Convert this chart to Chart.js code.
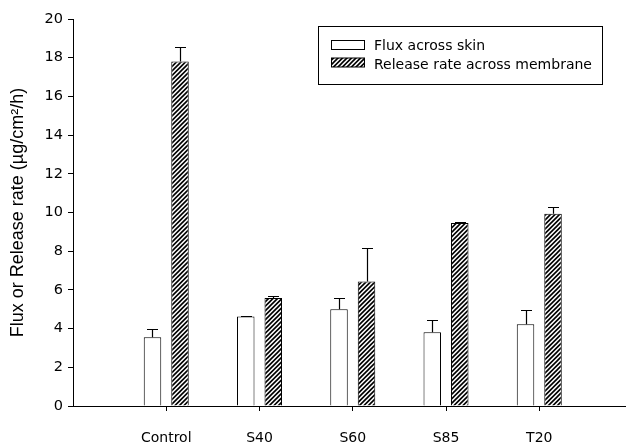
<!DOCTYPE html>
<html>
<head>
<meta charset="utf-8">
<script src="https://cdn.jsdelivr.net/npm/chart.js@4.4.1/dist/chart.umd.min.js"></script>
<style>
  html, body { margin: 0; padding: 0; background: #fff; }
  canvas { display: block; }
</style>
</head>
<body>
<canvas id="c" width="626" height="445"></canvas>
<script>
// ---- data ----
const categories = ['Control', 'S40', 'S60', 'S85', 'T20'];
const categoryPositions = [1, 2, 3, 4, 5];
const fluxValues = [3.55, 4.63, 5.00, 3.81, 4.22];
const fluxErrors = [0.45, 0.03, 0.58, 0.65, 0.75];
const releaseValues = [17.80, 5.58, 6.44, 9.46, 9.94];
const releaseErrors = [0.77, 0.09, 1.74, 0.05, 0.34];
const seriesLabels = ['Flux across skin', 'Release rate across membrane'];
const yTicks = [0, 2, 4, 6, 8, 10, 12, 14, 16, 18, 20];
const yTitle = 'Flux or Release rate (\u00b5g/cm\u00b2/h)';

const TXT = '"DejaVu Sans", sans-serif';

function makeHatch() {
  const s = 9;
  const c = document.createElement('canvas');
  c.width = s; c.height = s;
  const g = c.getContext('2d');
  g.fillStyle = '#fff';
  g.fillRect(0, 0, s, s);
  g.strokeStyle = '#000';
  g.lineWidth = 1.6;
  g.beginPath();
  for (const k of [-9, -4.5, 0, 4.5, 9]) {
    g.moveTo(k - 1, s + 1);
    g.lineTo(k + s + 1, -1);
  }
  g.stroke();
  return g.createPattern(c, 'repeat');
}
const hatch = makeHatch();

const toPoints = vals => vals.map((v, i) => ({ x: categoryPositions[i], y: v }));

const errorBars = {
  id: 'errorBars',
  afterDatasetsDraw(chart) {
    const ctx = chart.ctx;
    const y = chart.scales.y;
    const errs = [fluxErrors, releaseErrors];
    const vals = [fluxValues, releaseValues];
    ctx.save();
    ctx.strokeStyle = '#000';
    ctx.lineWidth = 1.2;
    chart.data.datasets.forEach((ds, d) => {
      const meta = chart.getDatasetMeta(d);
      meta.data.forEach((bar, i) => {
        const top = y.getPixelForValue(vals[d][i] + errs[d][i]);
        const base = y.getPixelForValue(vals[d][i]);
        const x = Math.round(bar.x) + 0.5;
        ctx.beginPath();
        ctx.moveTo(x, base);
        ctx.lineTo(x, Math.round(top) + 0.5);
        ctx.moveTo(x - 5.5, Math.round(top) + 0.5);
        ctx.lineTo(x + 5.5, Math.round(top) + 0.5);
        ctx.stroke();
      });
    });
    ctx.restore();
  }
};

const boxLegend = {
  id: 'boxLegend',
  afterDraw(chart) {
    const ctx = chart.ctx;
    ctx.save();
    ctx.strokeStyle = '#000';
    ctx.lineWidth = 1;
    ctx.strokeRect(318.5, 26.5, 284, 58);
    const rows = [45, 62.5];
    const fills = ['#fff', hatch];
    const textY = [46.5, 65.5];
    chart.data.datasets.forEach((ds, i) => {
      ctx.fillStyle = fills[i];
      ctx.fillRect(331, rows[i] - 4.5, 33, 9);
      ctx.strokeRect(331.5, rows[i] - 4.5, 33, 9);
      ctx.fillStyle = '#000';
      ctx.font = '14px ' + TXT;
      ctx.textBaseline = 'middle';
      ctx.textAlign = 'left';
      ctx.fillText(ds.label, 374, textY[i]);
    });
    ctx.restore();
  }
};

new Chart(document.getElementById('c'), {
  type: 'bar',
  data: {
    datasets: [
      {
        label: seriesLabels[0],
        data: toPoints(fluxValues),
        backgroundColor: '#fff',
        borderColor: '#000',
        borderWidth: 1
      },
      {
        label: seriesLabels[1],
        data: toPoints(releaseValues),
        backgroundColor: hatch,
        borderColor: '#000',
        borderWidth: 1
      }
    ]
  },
  options: {
    responsive: false,
    animation: false,
    devicePixelRatio: 1,
    categoryPercentage: 0.59,
    barPercentage: 0.636,
    layout: { padding: { top: 19, left: 0, right: 0, bottom: 0 } },
    plugins: { legend: { display: false }, tooltip: { enabled: false } },
    scales: {
      x: {
        type: 'linear',
        offset: false,
        min: 0,
        max: 5.93,
        afterBuildTicks(scale) {
          scale.ticks = categoryPositions.map(v => ({ value: v }));
        },
        afterFit(scale) { scale.height = 39; },
        ticks: {
          color: '#000',
          font: { family: TXT, size: 14 },
          padding: 19,
          maxRotation: 0,
          autoSkip: false,
          callback: (v) => categories[categoryPositions.indexOf(v)]
        },
        grid: { offset: false, drawOnChartArea: false, drawTicks: true, tickLength: 5, color: '#000', lineWidth: 1 },
        border: { display: true, color: '#000', width: 1 }
      },
      y: {
        min: 0,
        max: 20,
        afterBuildTicks(scale) {
          scale.ticks = yTicks.map(v => ({ value: v }));
        },
        afterFit(scale) { scale.width = 73; },
        ticks: {
          color: '#000',
          font: { family: TXT, size: 14.5 },
          padding: 5
        },
        grid: { drawOnChartArea: false, drawTicks: true, tickLength: 5, color: '#000', lineWidth: 1 },
        border: { display: true, color: '#000', width: 1 },
        title: {
          display: true,
          text: yTitle,
          color: '#000',
          font: { family: '"Liberation Sans", Arial, sans-serif', size: 18 },
          padding: { top: 7, bottom: 0 }
        }
      }
    }
  },
  plugins: [errorBars, boxLegend]
});
</script>
</body>
</html>
